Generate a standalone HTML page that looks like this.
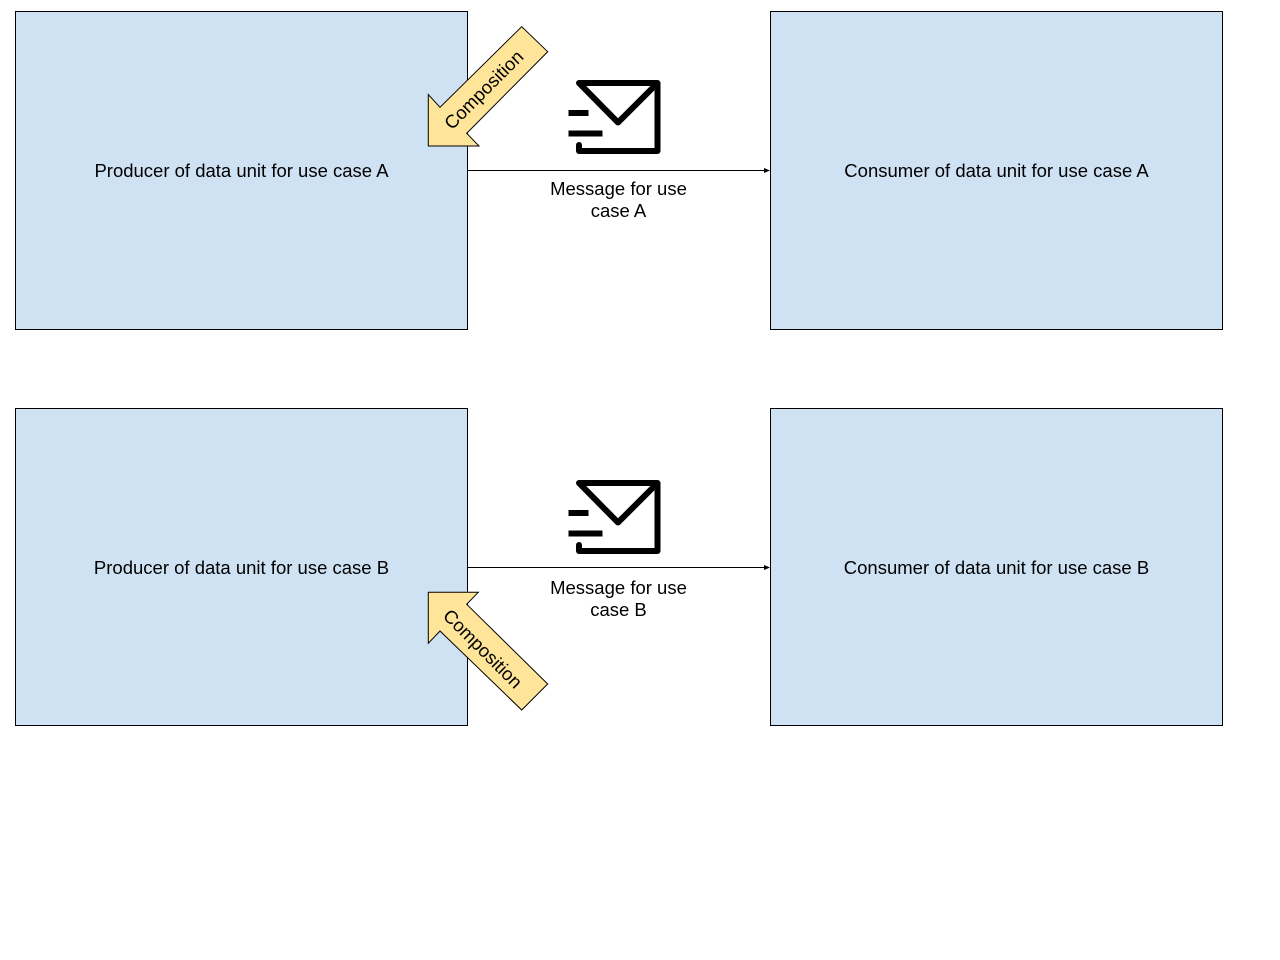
<!DOCTYPE html>
<html>
<head>
<meta charset="utf-8">
<style>
  html, body { margin: 0; padding: 0; background: #ffffff; }
  body { width: 1280px; height: 960px; overflow: hidden; }
  svg { display: block; }
  text { font-family: "Liberation Sans", Arial, sans-serif; font-size: 18.5px; fill: #000; }
</style>
</head>
<body>
<svg width="1280" height="960" viewBox="0 0 1280 960" xmlns="http://www.w3.org/2000/svg">
  <rect x="0" y="0" width="1280" height="960" fill="#ffffff"/>

  <!-- Row A -->
  <rect x="15.5" y="11.5" width="452" height="318" fill="#cfe2f3" stroke="#000" stroke-width="1"/>
  <rect x="770.5" y="11.5" width="452" height="318" fill="#cfe2f3" stroke="#000" stroke-width="1"/>
  <text x="241.5" y="177" text-anchor="middle">Producer of data unit for use case A</text>
  <text x="996.5" y="177" text-anchor="middle">Consumer of data unit for use case A</text>

  <line x1="468" y1="170.5" x2="765" y2="170.5" stroke="#000" stroke-width="1"/>
  <polygon points="764,168 770,170.5 764,173" fill="#000"/>
  <text x="618.5" y="195" text-anchor="middle">Message for use</text>
  <text x="618.5" y="217" text-anchor="middle">case A</text>

  <!-- envelope A -->
  <g fill="none" stroke="#000" stroke-width="6" stroke-linejoin="round" stroke-linecap="round">
    <path d="M579 145 V151 H657.5 V83 H579 L618 122.5 L655.5 85"/>
  </g>
  <rect x="568.5" y="110" width="20" height="6" fill="#000"/>
  <rect x="568.5" y="130.5" width="34" height="6" fill="#000"/>

  <!-- Composition arrow A (pointing down-left) -->
  <polygon points="428.3,146 428.3,94.5 440,107.3 521.7,26.7 547.7,51.7 466.7,133.3 479,146"
           fill="#ffe599" stroke="#000" stroke-width="1" stroke-linejoin="miter"/>
  <text x="484" y="96" text-anchor="middle" transform="rotate(-45 484 90)">Composition</text>

  <!-- Row B -->
  <rect x="15.5" y="408.5" width="452" height="317" fill="#cfe2f3" stroke="#000" stroke-width="1"/>
  <rect x="770.5" y="408.5" width="452" height="317" fill="#cfe2f3" stroke="#000" stroke-width="1"/>
  <text x="241.5" y="574" text-anchor="middle">Producer of data unit for use case B</text>
  <text x="996.5" y="574" text-anchor="middle">Consumer of data unit for use case B</text>

  <line x1="468" y1="567.5" x2="765" y2="567.5" stroke="#000" stroke-width="1"/>
  <polygon points="764,565 770,567.5 764,570" fill="#000"/>
  <text x="618.5" y="594" text-anchor="middle">Message for use</text>
  <text x="618.5" y="616" text-anchor="middle">case B</text>

  <!-- envelope B -->
  <g fill="none" stroke="#000" stroke-width="6" stroke-linejoin="round" stroke-linecap="round">
    <path d="M579 545 V551 H657.5 V483 H579 L618 522.5 L655.5 485"/>
  </g>
  <rect x="568.5" y="510" width="20" height="6" fill="#000"/>
  <rect x="568.5" y="530.5" width="34" height="6" fill="#000"/>

  <!-- Composition arrow B (pointing up-left) -->
  <polygon points="428.3,592.3 478.3,592.3 466.7,604.3 547.7,684 521.7,710 440,631 428.3,643.3"
           fill="#ffe599" stroke="#000" stroke-width="1" stroke-linejoin="miter"/>
  <text x="482.5" y="655" text-anchor="middle" transform="rotate(45 482.5 649)">Composition</text>
</svg>
</body>
</html>
